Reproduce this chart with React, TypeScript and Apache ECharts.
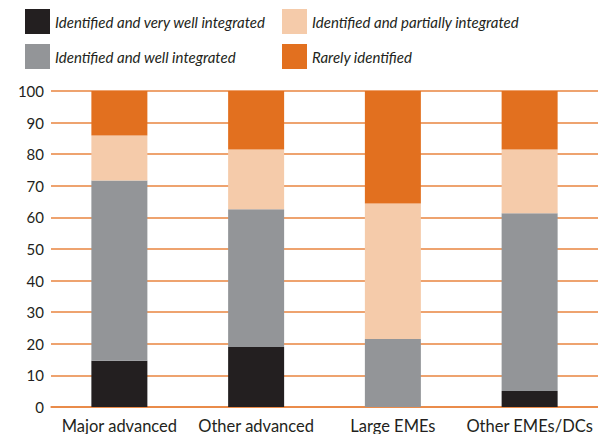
import React, { useEffect, useRef } from "react";
import * as echarts from "echarts";

const categories = ["Major advanced", "Other advanced", "Large EMEs", "Other EMEs/DCs"];
const seriesNames = [
  "Identified and very well integrated",
  "Identified and well integrated",
  "Identified and partially integrated",
  "Rarely identified",
];
const veryWell = [14.6, 19.0, 0, 5.1];
const well = [57.1, 43.6, 21.5, 56.2];
const partially = [14.2, 18.9, 42.9, 20.2];
const rarely = [14.1, 18.5, 35.6, 18.5];
const colors = ["#231f20", "#939598", "#f5cbaa", "#e2701f"];
const yTicks = [0, 10, 20, 30, 40, 50, 60, 70, 80, 90, 100];

const FONT = "Lato, 'Open Sans', sans-serif";
const TEXT = "#231f20";
const LINE = "#e8843f";

export default function App() {
  const ref = useRef<HTMLDivElement>(null);

  useEffect(() => {
    if (!ref.current) return;
    const chart = echarts.init(ref.current, undefined, { renderer: "svg" });
    const values = [veryWell, well, partially, rarely];
    const legendText = {
      fontFamily: FONT,
      fontStyle: "italic" as const,
      fontSize: 15,
      color: TEXT,
    };
    chart.setOption({
      animation: false,
      legend: [
        {
          left: 25,
          top: 9,
          orient: "vertical",
          itemWidth: 25,
          itemHeight: 25,
          itemGap: 10,
          icon: "rect",
          data: [seriesNames[0], seriesNames[1]],
          textStyle: legendText,
          padding: 0,
        },
        {
          left: 282,
          top: 9,
          orient: "vertical",
          itemWidth: 25,
          itemHeight: 25,
          itemGap: 10,
          icon: "rect",
          data: [seriesNames[2], seriesNames[3]],
          textStyle: legendText,
          padding: 0,
        },
      ],
      grid: { left: 51, top: 91, width: 550, height: 317 },
      xAxis: {
        type: "category",
        data: categories,
        axisLine: { lineStyle: { color: LINE, width: 1.5 } },
        axisTick: { inside: true, length: 6, lineStyle: { color: LINE, width: 1.5 } },
        axisLabel: { interval: 0, fontFamily: FONT, fontSize: 16.5, color: TEXT, margin: 10 },
      },
      yAxis: {
        type: "value",
        min: yTicks[0],
        max: yTicks[yTicks.length - 1],
        interval: 10,
        axisLine: { show: false },
        axisTick: { show: false },
        splitLine: { lineStyle: { color: LINE, width: 1.5 } },
        axisLabel: { fontFamily: FONT, fontSize: 15, color: TEXT, margin: 7 },
      },
      series: seriesNames.map((name, i) => ({
        name,
        type: "bar",
        stack: "total",
        barWidth: 56,
        data: values[i],
        itemStyle: { color: colors[i] },
      })),
    });
    return () => chart.dispose();
  }, []);

  return <div ref={ref} style={{ width: 598, height: 434, position: "absolute", left: 0, top: 0 }} />;
}
